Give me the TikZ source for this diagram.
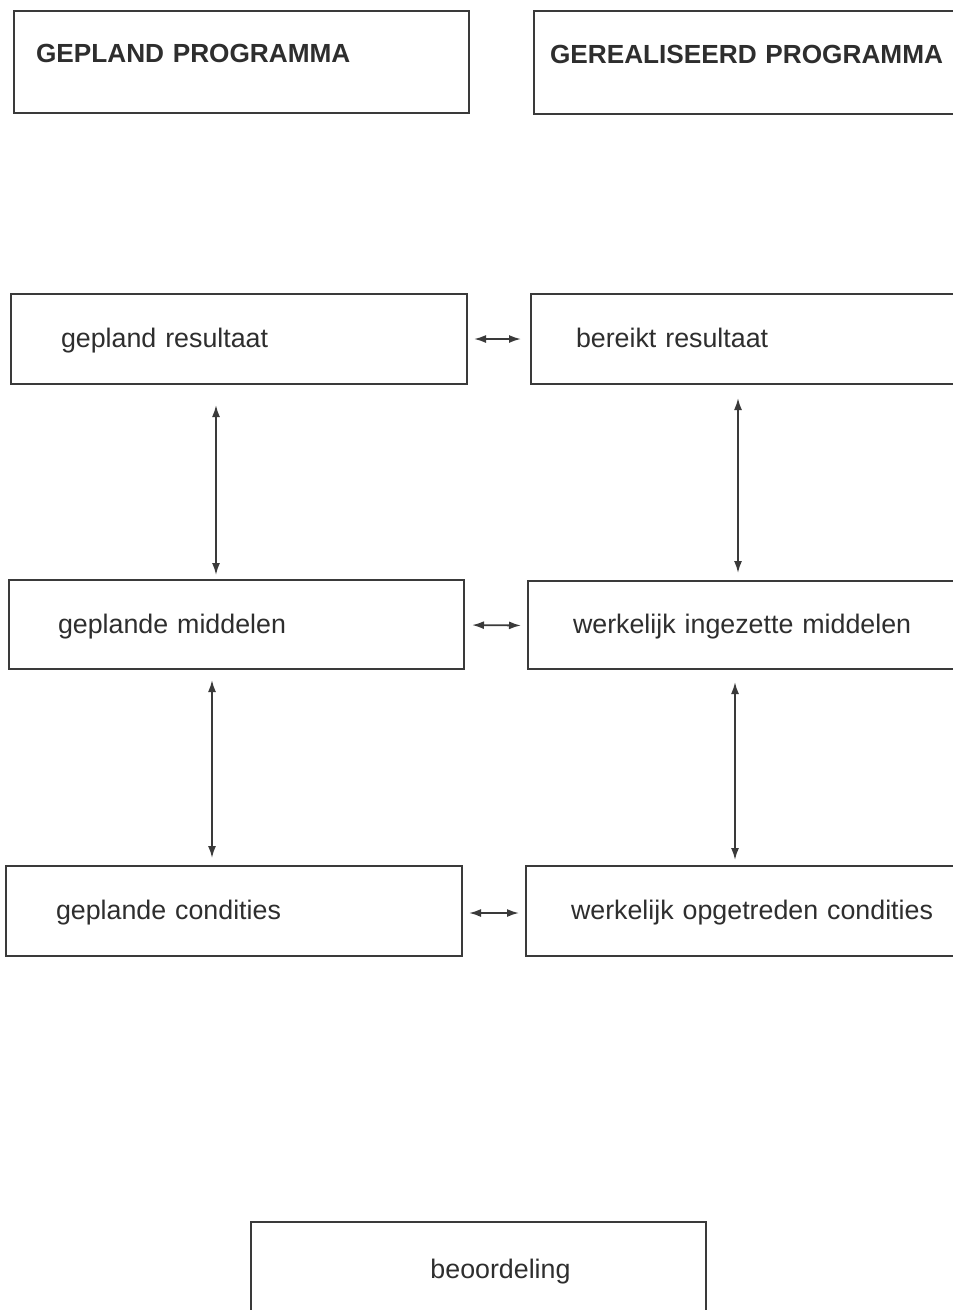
\documentclass[tikz,border=0pt]{standalone}
\usepackage{fontspec}
\setmainfont{Liberation Sans}[WordSpace=1.6]
\usetikzlibrary{arrows.meta}
\definecolor{ink}{HTML}{3A3A3A}
\definecolor{txt}{HTML}{2E2E2E}
\tikzset{
  box/.style={draw=ink, line width=2pt, rectangle, anchor=north west, align=left,
    inner ysep=0pt, text=txt, font=\fontsize{26.8}{30}\selectfont, text height=23pt, text depth=5.5pt},
  title/.style={font=\fontsize{26.2}{30}\selectfont\bfseries, text height=19pt, text depth=18pt},
  arr/.style={draw=ink, line width=1.8pt, {Latex[length=12pt,width=8pt]}-{Latex[length=12pt,width=8pt]}}
}
\begin{document}
\begin{tikzpicture}[x=1pt,y=-1pt]
\useasboundingbox (0,0) rectangle (953,1310);
\clip (0,0) rectangle (953,1310);
\fill[white] (0,0) rectangle (953,1310);
% top row
\node[box,title, minimum width=455pt, minimum height=102pt, inner xsep=22pt, text width=411pt] (p1) at (13,10) {GEPLAND PROGRAMMA};
\node[box,title, minimum width=455pt, minimum height=103pt, inner xsep=16pt, text width=423pt] (p2) at (533,10) {GEREALISEERD PROGRAMMA};
% resultaat
\node[box, minimum width=456pt, minimum height=90pt, inner xsep=50pt, text width=356pt] (b3) at (10,293) {gepland resultaat};
\node[box, minimum width=456pt, minimum height=90pt, inner xsep=45pt, text width=366pt] (b4) at (530,293) {bereikt resultaat};
% middelen
\node[box, minimum width=455pt, minimum height=89pt, inner xsep=49pt, text width=357pt] (b5) at (8,579) {geplande middelen};
\node[box, minimum width=455pt, minimum height=88pt, inner xsep=45pt, text width=365pt] (b6) at (527,580) {werkelijk ingezette middelen};
% condities
\node[box, minimum width=456pt, minimum height=90pt, inner xsep=50pt, text width=356pt] (b7) at (5,865) {geplande condities};
\node[box, minimum width=456pt, minimum height=90pt, inner xsep=45pt, text width=366pt] (b8) at (525,865) {werkelijk opgetreden condities};
% beoordeling
\node[box, align=center, minimum width=455pt, minimum height=96pt, inner xsep=20pt, text width=415pt] (b9) at (250,1221) {\hspace*{44pt}beoordeling};
% horizontal arrows
\draw[arr, shorten <=6pt, shorten >=9pt] (b3.east) -- (b4.west);
\draw[arr, shorten <=7pt, shorten >=6pt] ([yshift=-0.5pt]b5.east) -- ([yshift=-0.5pt]b6.west);
\draw[arr, shorten <=6pt, shorten >=6pt] ([yshift=-2pt]b7.east) -- ([yshift=-2pt]b8.west);
% vertical arrows
\draw[arr] ([xshift=-23pt,yshift=-20pt]b3.south) -- ([xshift=-20.5pt,yshift=4pt]b5.north);
\draw[arr] ([xshift=-24.5pt,yshift=-10pt]b5.south) -- ([xshift=-22pt,yshift=7pt]b7.north);
\draw[arr] ([xshift=-21pt,yshift=-13pt]b4.south) -- ([xshift=-17.5pt,yshift=7pt]b6.north);
\draw[arr] ([xshift=-20.5pt,yshift=-12pt]b6.south) -- ([xshift=-19pt,yshift=5pt]b8.north);
\end{tikzpicture}
\end{document}
